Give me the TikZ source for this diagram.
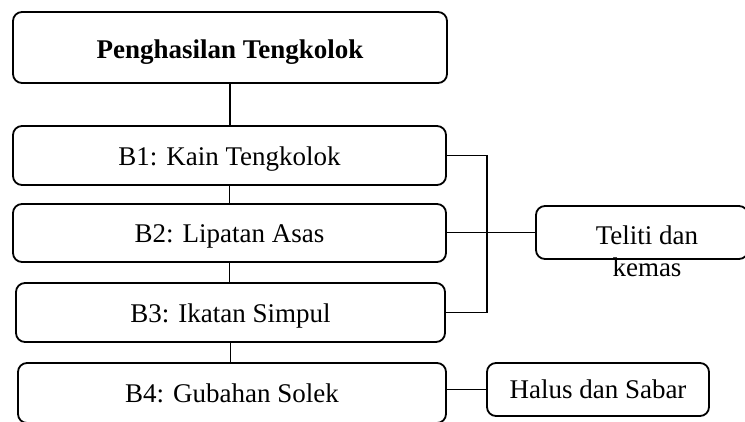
\documentclass[tikz,border=0pt]{standalone}
\usepackage{fontspec}
\setmainfont{Liberation Serif}
\usetikzlibrary{positioning}
\tikzset{every picture/.style={line width=1.8pt}}
\tikzset{stagebox/.style={draw, rounded corners=9pt, inner sep=0pt, text height=19pt, text depth=0pt, font=\fontsize{27}{31}\selectfont}}

\begin{document}
\begin{tikzpicture}[x=1pt,y=1pt,yscale=-1,xscale=1]
\useasboundingbox (0,0) rectangle (745,421);

%Shape: Rounded Rect
\node [stagebox, minimum width=434pt, minimum height=71pt, text height=22pt, font=\fontsize{27}{31}\selectfont\bfseries] (tajuk) at (230,47.5) {Penghasilan Tengkolok};
%Shape: Rounded Rect
\node [stagebox, minimum width=433pt, minimum height=59pt] (bA) at (229.5,155.5) {B1: Kain Tengkolok};
%Shape: Rounded Rect
\node [stagebox, minimum width=433pt, minimum height=58pt] (bB) at (229.5,233) {B2: Lipatan Asas};
%Shape: Rounded Rect
\node [stagebox, minimum width=429pt, minimum height=59pt] (bC) at (230.5,312.5) {B3: Ikatan Simpul};
%Shape: Rounded Rect
\node [stagebox, minimum width=428pt, minimum height=60pt] (bD) at (232,393) {B4: Gubahan Solek};
%Shape: Rounded Rect
\node [stagebox, minimum width=212pt, minimum height=53pt] (teliti) at (642,232.5) {};
%Shape: Rounded Rect
\node [stagebox, minimum width=222pt, minimum height=53pt, text height=17pt] (halus) at (598,389.5) {Halus dan Sabar};

% Text Node
\node [inner sep=0pt, align=center, font=\fontsize{27}{32}\selectfont] (telitiTeks) at (647,251) {Teliti dan\\kemas};

%Straight Lines
\draw (tajuk.south) -- (tajuk.south |- bA.north);
\draw (bA.south) -- (bA.south |- bB.north);
\draw (bB.south) -- (bB.south |- bC.north);
\draw (bC.south) -- (bC.south |- bD.north);
%Straight Lines
\coordinate (cabang) at (487,155.5);
\draw (bA.east) -- (cabang) |- (bC.east);
\draw (bB.east |- teliti.west) -- (teliti.west);
\draw (bD.east |- halus.west) -- (halus.west);

\end{tikzpicture}
\end{document}
